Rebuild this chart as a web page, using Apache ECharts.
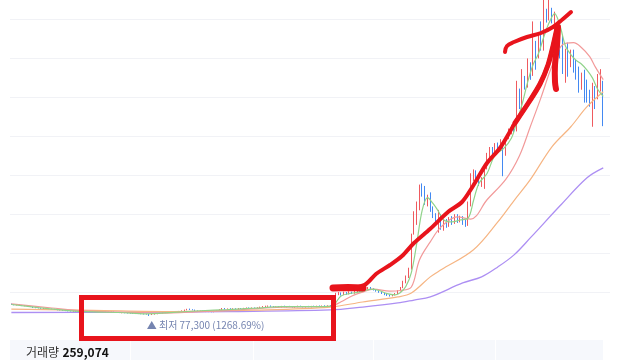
<!DOCTYPE html>
<html><head><meta charset="utf-8">
<script src="https://cdn.jsdelivr.net/npm/echarts@6/dist/echarts.min.js"></script>
<style>html,body{margin:0;padding:0;background:#fff}#c{width:640px;height:360px}</style>
</head><body><div id="c"></div>
<script>
// prices in thousands of won
const opens = [138,136,133,135,132,129,131,127,124,
121,119,118,115,117,114,113,112,110,108,107,105,104,
103,101,103,101,100,99,97,99,98,97,99,98,96,98,95,97,
98,96,95,93,95,93,92,91,89,92,89,88,87,86,
84,86,88,90,92,96,94,97,98,96,99,101,104,108,
113,110,108,104,101,103,99,101,100,98,102,106,110,116,111,
115,113,115,112,116,114,117,119,116,119,117,120,123,125,126,
129,126,123,126,122,128,123,127,125,121,124,128,124,122,127,123,128,124,129,125,130,126,131,127,
132,188,194,186,196,190,198,193,201,206,
202,210,216,222,217,211,205,199,193,188,
183,181,186,192,205,222,248,275,318,500,
560,640,745,705,650,690,630,595,515,595,
530,560,545,575,555,590,565,580,555,545,
650,790,815,775,760,745,840,900,935,905,
955,940,965,905,995,1030,1040,1030,1240,1150,
1300,1260,1370,1320,1480,1410,1580,1450,1650,1600,
1655,1550,1560,1540,1500,1290,1475,1360,1440,1390,
1350,1245,1330,1280,1235,1060,1250,1200,1240,1270];
const closes = [136,134,135,132,130,131,127,125,120,
119,118,116,117,114,113,112,110,108,107,105,104,103,
102,103,101,100,99,98,99,98,97,99,98,97,98,96,97,98,
96,95,94,95,93,92,91,90,92,89,88,87,86,84,
86,88,90,92,95,94,97,98,96,99,101,104,108,112,
110,108,104,102,103,100,101,99,98,102,106,110,115,112,114,
113,115,112,116,114,117,118,116,119,117,120,123,125,127,128,
126,124,125,123,127,124,126,125,122,124,127,125,123,126,124,127,125,128,126,129,127,130,128,131,
188,194,186,196,190,198,193,201,206,202,
210,216,222,217,211,205,199,193,188,183,
181,186,192,205,222,248,275,315,480,600,
650,735,705,660,690,630,590,575,600,530,
560,540,575,555,590,565,580,555,545,650,
790,815,775,760,770,840,900,930,905,955,
940,970,905,995,1030,1050,1035,1265,1150,1330,
1260,1380,1300,1560,1360,1520,1450,1660,1590,1700,
1590,1630,1480,1440,1330,1440,1320,1440,1340,1300,
1240,1320,1190,1185,1160,1250,1190,1310,1335,1058];
const lows = [134,132,131,130,128,127,125,123,118,
117,116,114,113,112,111,110,108,106,105,103,102,101,
100,99,99,98,97,96,95,96,95,95,96,95,94,94,93,95,
94,93,92,91,91,90,89,88,87,87,86,85,84,77.3,
82,84,86,88,90,92,92,95,94,94,97,99,102,106,
108,106,102,100,99,98,97,97,96,96,100,104,108,110,109,
111,111,110,110,112,112,115,114,114,115,115,118,121,123,124,
124,122,121,121,120,122,121,123,120,119,122,123,121,120,122,121,123,122,124,123,125,124,126,125,
130,184,182,184,186,188,190,191,198,199,
200,207,212,213,208,202,196,190,184,180,
177,178,183,190,203,220,245,272,315,495,
545,620,690,648,640,612,580,560,505,520,
515,530,535,545,550,555,558,545,535,540,
640,770,765,745,740,730,830,890,895,900,
925,930,795,900,985,1010,1020,1025,1140,1135,
1240,1250,1290,1310,1342,1400,1440,1440,1584,1595,
1580,1530,1475,1400,1320,1275,1306,1355,1327,1291,
1224,1239,1173,1173,1152,1049,1140,1190,1230,1052];
const highs = [141,138,137,137,134,133,133,129,126,
123,121,120,119,119,116,115,114,112,110,109,107,106,
105,105,105,103,102,101,101,101,100,101,101,100,100,100,99,100,
100,98,97,97,97,95,94,93,94,94,91,90,89,88,
88,90,92,94,97,98,99,100,100,101,103,106,110,114,
115,112,110,106,105,105,103,103,102,104,108,112,118,118,116,
117,117,117,118,118,119,121,121,121,121,122,125,128,130,131,
131,128,127,128,129,130,128,129,127,126,130,130,126,128,129,129,130,130,131,131,132,132,133,134,
196,200,198,202,200,204,202,206,210,210,
214,222,226,226,220,214,208,202,196,191,
187,189,195,210,226,258,285,325,500,615,
665,752,758,745,700,712,640,605,622,600,
572,575,585,590,600,600,592,590,570,665,
810,830,825,790,790,855,915,945,945,965,
968,985,975,1000,1040,1060,1055,1285,1245,1345,
1310,1400,1380,1590,1490,1535,1590,1702,1655,1702,
1660,1640,1565,1550,1515,1450,1481,1445,1445,1394,
1358,1327,1342,1291,1239,1275,1258,1320,1345,1285];

// moving-average lines (candle index, value)
const ma5At = [0,10,20,30,40,50,60,70,80,90,100,110,119,120,122,125,128,131,133,136,139,142,144,146,148,150,152,154,156,158,160,163,166,169,171,173,176,179,182,185,187,189,191,193,195,197,199,201,203,205,207,209,211,213,215,217,219];
const ma5 = [136,120,106,98,95,88,96,104,110,117,125,125,128,145,180,192,198,208,215,208,192,186,198,230,300,450,620,685,655,615,570,560,570,580,670,758,809,906,935,990,1075,1166,1277,1366,1424,1510,1584,1630,1568,1464,1420,1390,1370,1340,1300,1240,1205];
const ma20At = [0,15,27,40,55,70,85,100,118,122,126,130,134,140,144,148,151,155,159,165,170,176,183,188,192,196,200,204,208,211,214,216,219];
const ma20 = [139,118,103,97,92,100,110,122,127,150,180,200,215,205,208,226,365,458,535,586,575,674,780,900,1049,1200,1360,1471,1481,1455,1409,1358,1291];
const ma60At = [0,30,60,90,118,130,143,148,155,159,171,180,186,192,200,207,213,219];
const ma60 = [112,106,100,107,123,149,175,195,278,314,417,560,670,777,946,1049,1152,1229];
const ma120At = [0,40,80,118,130,143,149,155,167,174,180,186,192,203,213,219];
const ma120 = [95,96,100,108,123,144,159,175,247,278,329,391,478,643,787,838];

const yMin = 0, yMax = 1700, yStep = 200;
const volumeLabel = '거래량';
const volumeValue = '259,074';

const N = closes.length;
const cats = closes.map((_, i) => 'D' + (i + 1));
const candles = opens.map((o, i) => [o, closes[i], lows[i], highs[i]]);
const lowVal = Math.min(...lows);
const lowIdx = lows.indexOf(lowVal);
const pct = ((closes[N - 1] - lowVal) / lowVal * 100).toFixed(2);
const fmt = v => Math.round(v * 1000).toLocaleString('en-US');
const pair = (at, vals) => at.map((x, k) => [x, vals[k]]);
const FONT = '"Noto Sans CJK KR","Noto Sans",sans-serif';
const RED = '#e8141c';

function maSeries(at, vals, color, w) {
  return {type: 'line', data: pair(at, vals), showSymbol: false, symbol: 'none',
    smooth: 0.35, lineStyle: {width: w, color: color}, z: 3, silent: true};
}

const chart = echarts.init(document.getElementById('c'), null, {renderer: 'canvas'});
chart.setOption({
  animation: false,
  backgroundColor: '#fff',
  grid: {left: 10, right: 30, top: 0, bottom: 29},
  xAxis: {type: 'category', data: cats, max: N + 1, boundaryGap: true,
    axisLine: {show: false}, axisTick: {show: false}, axisLabel: {show: false}, splitLine: {show: false}},
  yAxis: {type: 'value', min: yMin, max: yMax, interval: yStep,
    axisLine: {show: false}, axisTick: {show: false}, axisLabel: {show: false},
    splitLine: {show: true, showMinLine: false, showMaxLine: false, lineStyle: {color: '#f1f2f6', width: 1}}},
  series: [
    {type: 'candlestick', data: candles, barWidth: 1.3, z: 2,
      itemStyle: {color: '#ef5a5f', color0: '#4389f2', borderColor: '#ef5a5f', borderColor0: '#4389f2', borderWidth: 1},
      markPoint: {symbol: 'circle', symbolSize: 1, itemStyle: {color: 'rgba(0,0,0,0)'},
        data: [{coord: [lowIdx, lowVal],
          label: {show: true, position: 'right', distance: 0, offset: [-3, 9],
            formatter: '▲ 최저 ' + fmt(lowVal) + ' (' + pct + '%)',
            color: '#7584b0', fontSize: 10, fontFamily: FONT}}]}},
    maSeries(ma120At, ma120, '#ad8ff3', 1.3),
    maSeries(ma60At, ma60, '#f6b583', 1.2),
    maSeries(ma20At, ma20, '#f29a9a', 1.2),
    maSeries(ma5At, ma5, '#90d38a', 1.2)
  ],
  graphic: [
    {type: 'rect', z: 1, shape: {x: 10, y: 340, width: 120, height: 20}, style: {fill: '#f6f8fc'}},
    {type: 'rect', z: 1, shape: {x: 131, y: 340, width: 122, height: 20}, style: {fill: '#f6f8fc'}},
    {type: 'rect', z: 1, shape: {x: 254, y: 340, width: 119, height: 20}, style: {fill: '#f6f8fc'}},
    {type: 'rect', z: 1, shape: {x: 374, y: 340, width: 121, height: 20}, style: {fill: '#f6f8fc'}},
    {type: 'rect', z: 1, shape: {x: 496, y: 340, width: 107, height: 20}, style: {fill: '#f6f8fc'}},
    {type: 'text', z: 50, x: 26, y: 352, style: {text: '{a|' + volumeLabel + '} {b|' + volumeValue + '}', verticalAlign: 'middle',
      rich: {a: {fontSize: 12, fill: '#333', fontFamily: FONT}, b: {fontSize: 12, fontWeight: 'bold', fill: '#111', fontFamily: FONT}}}},
    {type: 'rect', z: 100, shape: {x: 81.5, y: 297.5, width: 252, height: 41}, style: {fill: 'none', stroke: RED, lineWidth: 5}},
    {type: 'polyline', z: 100, shape: {points: [[333,288],[348,287.5],[363,288]]}, style: {stroke: RED, lineWidth: 7, lineCap: 'round', fill: 'none'}},
    {type: 'polyline', z: 100, shape: {smooth: 0.3, points: [[355,288],[366,284],[376,274],[390,265],[402,256],[414,243],[430,229],[448,212],[462,202],[473,186],[487,163],[500,148],[515,123],[529,102],[540,84],[548,65],[553,46],[557,28]]},
      style: {stroke: RED, lineWidth: 4, lineCap: 'round', lineJoin: 'round', fill: 'none'}},
    {type: 'polyline', z: 100, shape: {smooth: 0.3, points: [[515,123],[529,102],[540,84],[548,65],[553,46],[557,28]]},
      style: {stroke: RED, lineWidth: 5, lineCap: 'round', lineJoin: 'round', fill: 'none'}},
    {type: 'polyline', z: 100, shape: {smooth: 0.4, points: [[505,52],[507,46],[514,42],[527,37],[541,33],[553,27],[563,19],[571,12]]},
      style: {stroke: RED, lineWidth: 4, lineCap: 'round', lineJoin: 'round', fill: 'none'}},
    {type: 'polyline', z: 100, shape: {smooth: 0.3, points: [[558,27],[557,45],[555,65],[555,82],[556,89]]},
      style: {stroke: RED, lineWidth: 6, lineCap: 'round', lineJoin: 'round', fill: 'none'}}
  ]
});
</script></body></html>
